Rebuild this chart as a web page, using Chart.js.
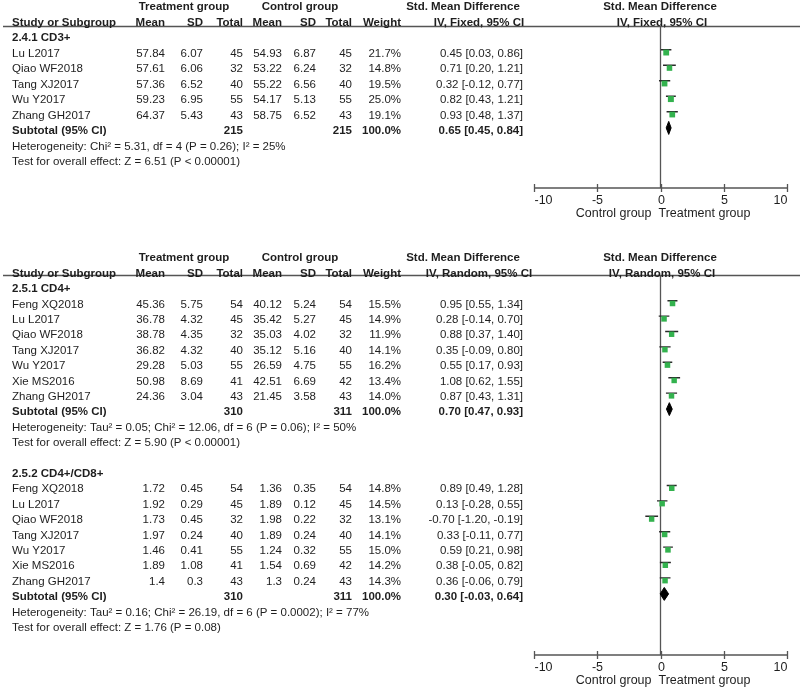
<!DOCTYPE html>
<html>
<head>
<meta charset="utf-8">
<script src="https://cdn.jsdelivr.net/npm/chart.js@4.4.1/dist/chart.umd.min.js"></script>
<style>
  body { margin: 0; background: #fff; }
  canvas { display: block; }
</style>
</head>
<body>
<canvas id="top" width="800" height="220"></canvas>
<canvas id="bottom" width="800" height="470"></canvas>
<script>
// ---- data ----
const tickValues = [-10, -5, 0, 5, 10]

// 2.4.1 CD3+
const cd3Studies = ['Lu L2017', 'Qiao WF2018', 'Tang XJ2017', 'Wu Y2017', 'Zhang GH2017']
const cd3TMean = [57.84, 57.61, 57.36, 59.23, 64.37]
const cd3TSD = [6.07, 6.06, 6.52, 6.95, 5.43]
const cd3TN = [45, 32, 40, 55, 43]
const cd3CMean = [54.93, 53.22, 55.22, 54.17, 58.75]
const cd3CSD = [6.87, 6.24, 6.56, 5.13, 6.52]
const cd3CN = [45, 32, 40, 55, 43]
const cd3Weight = [21.7, 14.8, 19.5, 25.0, 19.1]
const cd3Smd = [0.45, 0.71, 0.32, 0.82, 0.93]
const cd3Lo = [0.03, 0.20, -0.12, 0.43, 0.48]
const cd3Hi = [0.86, 1.21, 0.77, 1.21, 1.37]
const cd3Total = [215, 215, 0.65, 0.45, 0.84]

// 2.5.1 CD4+
const cd4Studies = ['Feng XQ2018', 'Lu L2017', 'Qiao WF2018', 'Tang XJ2017', 'Wu Y2017', 'Xie MS2016', 'Zhang GH2017']
const cd4TMean = [45.36, 36.78, 38.78, 36.82, 29.28, 50.98, 24.36]
const cd4TSD = [5.75, 4.32, 4.35, 4.32, 5.03, 8.69, 3.04]
const cd4TN = [54, 45, 32, 40, 55, 41, 43]
const cd4CMean = [40.12, 35.42, 35.03, 35.12, 26.59, 42.51, 21.45]
const cd4CSD = [5.24, 5.27, 4.02, 5.16, 4.75, 6.69, 3.58]
const cd4CN = [54, 45, 32, 40, 55, 42, 43]
const cd4Weight = [15.5, 14.9, 11.9, 14.1, 16.2, 13.4, 14.0]
const cd4Smd = [0.95, 0.28, 0.88, 0.35, 0.55, 1.08, 0.87]
const cd4Lo = [0.55, -0.14, 0.37, -0.09, 0.17, 0.62, 0.43]
const cd4Hi = [1.34, 0.70, 1.40, 0.80, 0.93, 1.55, 1.31]
const cd4Total = [310, 311, 0.70, 0.47, 0.93]

// 2.5.2 CD4+/CD8+
const ratioStudies = ['Feng XQ2018', 'Lu L2017', 'Qiao WF2018', 'Tang XJ2017', 'Wu Y2017', 'Xie MS2016', 'Zhang GH2017']
const ratioTMean = [1.72, 1.92, 1.73, 1.97, 1.46, 1.89, 1.4]
const ratioTSD = [0.45, 0.29, 0.45, 0.24, 0.41, 1.08, 0.3]
const ratioTN = [54, 45, 32, 40, 55, 41, 43]
const ratioCMean = [1.36, 1.89, 1.98, 1.89, 1.24, 1.54, 1.3]
const ratioCSD = [0.35, 0.12, 0.22, 0.24, 0.32, 0.69, 0.24]
const ratioCN = [54, 45, 32, 40, 55, 42, 43]
const ratioWeight = [14.8, 14.5, 13.1, 14.1, 15.0, 14.2, 14.3]
const ratioSmd = [0.89, 0.13, -0.70, 0.33, 0.59, 0.38, 0.36]
const ratioLo = [0.49, -0.28, -1.20, -0.11, 0.21, -0.05, -0.06]
const ratioHi = [1.28, 0.55, -0.19, 0.77, 0.98, 0.82, 0.79]
const ratioTotal = [310, 311, 0.30, -0.03, 0.64]

const groups = [
  { panel: 'top', row: 0, title: '2.4.1 CD3+', studies: cd3Studies, tMean: cd3TMean, tSD: cd3TSD, tN: cd3TN,
    cMean: cd3CMean, cSD: cd3CSD, cN: cd3CN, weight: cd3Weight, smd: cd3Smd, lo: cd3Lo, hi: cd3Hi, total: cd3Total,
    het: 'Heterogeneity: Chi² = 5.31, df = 4 (P = 0.26); I² = 25%',
    test: 'Test for overall effect: Z = 6.51 (P < 0.00001)' },
  { panel: 'bottom', row: 0, title: '2.5.1 CD4+', studies: cd4Studies, tMean: cd4TMean, tSD: cd4TSD, tN: cd4TN,
    cMean: cd4CMean, cSD: cd4CSD, cN: cd4CN, weight: cd4Weight, smd: cd4Smd, lo: cd4Lo, hi: cd4Hi, total: cd4Total,
    het: 'Heterogeneity: Tau² = 0.05; Chi² = 12.06, df = 6 (P = 0.06); I² = 50%',
    test: 'Test for overall effect: Z = 5.90 (P < 0.00001)' },
  { panel: 'bottom', row: 12, title: '2.5.2 CD4+/CD8+', studies: ratioStudies, tMean: ratioTMean, tSD: ratioTSD, tN: ratioTN,
    cMean: ratioCMean, cSD: ratioCSD, cN: ratioCN, weight: ratioWeight, smd: ratioSmd, lo: ratioLo, hi: ratioHi, total: ratioTotal,
    het: 'Heterogeneity: Tau² = 0.16; Chi² = 26.19, df = 6 (P = 0.0002); I² = 77%',
    test: 'Test for overall effect: Z = 1.76 (P = 0.08)' }
]

// ---- layout ----
const FONT = '"Liberation Sans", Arial, sans-serif'
const TXT = '#1e1e1e'
const GREEN = '#33b24e'
const cols = { name: 12, tMean: 165, tSD: 203, tN: 243, cMean: 282, cSD: 316, cN: 352, weight: 401, smd: 523 }

const panels = {
  top: { h: 220, top: 26, bottom: 188, row0: 38, pitch: 15.5, method: 'IV, Fixed, 95% CI' },
  bottom: { h: 470, top: 55, bottom: 435, row0: 69, pitch: 15.4, method: 'IV, Random, 95% CI' }
}

const fmt = v => v.toFixed(2)
const ciText = (e, l, h) => fmt(e) + ' [' + fmt(l) + ', ' + fmt(h) + ']'

function txt(ctx, s, x, y, align, bold, size) {
  ctx.font = (bold ? 'bold ' : '') + (size || 11.5) + 'px ' + FONT
  ctx.textAlign = align
  ctx.fillText(s, x, y)
}

const forestPlugin = {
  id: 'forest',
  beforeDatasetsDraw(chart) {
    const ctx = chart.ctx, a = chart.chartArea, xs = chart.scales.x
    const x0 = xs.getPixelForValue(0)
    ctx.save()
    ctx.strokeStyle = '#555'
    ctx.lineWidth = 1.3
    // header rule
    ctx.beginPath(); ctx.moveTo(3, a.top + 0.5); ctx.lineTo(800, a.top + 0.5); ctx.stroke()
    // line of no effect
    ctx.beginPath(); ctx.moveTo(x0, a.top); ctx.lineTo(x0, a.bottom); ctx.stroke()
    // x axis
    ctx.beginPath()
    ctx.moveTo(xs.getPixelForValue(tickValues[0]), a.bottom)
    ctx.lineTo(xs.getPixelForValue(tickValues[tickValues.length - 1]), a.bottom)
    ctx.stroke()
    ctx.fillStyle = TXT
    ctx.textBaseline = 'middle'
    tickValues.forEach((v, i) => {
      const px = Math.round(xs.getPixelForValue(v)) + 0.5
      ctx.beginPath(); ctx.moveTo(px, a.bottom - 4); ctx.lineTo(px, a.bottom + 4); ctx.stroke()
      const align = i === 0 ? 'left' : (i === tickValues.length - 1 ? 'right' : 'center')
      txt(ctx, String(v), px, a.bottom + 13, align, false, 12.5)
    })
    txt(ctx, 'Control group', x0 - 9, a.bottom + 26, 'right', false, 12.5)
    txt(ctx, 'Treatment group', x0 - 2, a.bottom + 26, 'left', false, 12.5)
    ctx.restore()
  },
  afterDraw(chart) {
    const ctx = chart.ctx, ys = chart.scales.y
    const p = panels[chart.options.plugins.forest.panel]
    const Y = r => ys.getPixelForValue(r)
    ctx.save()
    ctx.fillStyle = TXT
    ctx.textBaseline = 'middle'
    // column headers
    txt(ctx, 'Treatment group', 184, Y(-2), 'center', true)
    txt(ctx, 'Control group', 300, Y(-2), 'center', true)
    txt(ctx, 'Std. Mean Difference', 463, Y(-2), 'center', true)
    txt(ctx, 'Std. Mean Difference', 660, Y(-2), 'center', true)
    txt(ctx, 'Study or Subgroup', cols.name, Y(-1), 'left', true)
    txt(ctx, 'Mean', cols.tMean, Y(-1), 'right', true)
    txt(ctx, 'SD', cols.tSD, Y(-1), 'right', true)
    txt(ctx, 'Total', cols.tN, Y(-1), 'right', true)
    txt(ctx, 'Mean', cols.cMean, Y(-1), 'right', true)
    txt(ctx, 'SD', cols.cSD, Y(-1), 'right', true)
    txt(ctx, 'Total', cols.cN, Y(-1), 'right', true)
    txt(ctx, 'Weight', cols.weight, Y(-1), 'right', true)
    txt(ctx, p.method, 479, Y(-1), 'center', true)
    txt(ctx, p.method, 662, Y(-1), 'center', true)

    groups.filter(g => g.panel === chart.options.plugins.forest.panel).forEach(g => {
      let r = g.row
      txt(ctx, g.title, cols.name, Y(r), 'left', true)
      g.studies.forEach((s, i) => {
        const y = Y(r + 1 + i)
        txt(ctx, s, cols.name, y, 'left', false)
        txt(ctx, String(g.tMean[i]), cols.tMean, y, 'right', false)
        txt(ctx, String(g.tSD[i]), cols.tSD, y, 'right', false)
        txt(ctx, String(g.tN[i]), cols.tN, y, 'right', false)
        txt(ctx, String(g.cMean[i]), cols.cMean, y, 'right', false)
        txt(ctx, String(g.cSD[i]), cols.cSD, y, 'right', false)
        txt(ctx, String(g.cN[i]), cols.cN, y, 'right', false)
        txt(ctx, g.weight[i].toFixed(1) + '%', cols.weight, y, 'right', false)
        txt(ctx, ciText(g.smd[i], g.lo[i], g.hi[i]), cols.smd, y, 'right', false)
      })
      const ys2 = Y(r + 1 + g.studies.length)
      txt(ctx, 'Subtotal (95% CI)', cols.name, ys2, 'left', true)
      txt(ctx, String(g.total[0]), cols.tN, ys2, 'right', true)
      txt(ctx, String(g.total[1]), cols.cN, ys2, 'right', true)
      txt(ctx, '100.0%', cols.weight, ys2, 'right', true)
      txt(ctx, ciText(g.total[2], g.total[3], g.total[4]), cols.smd, ys2, 'right', true)
      txt(ctx, g.het, cols.name, Y(r + 2 + g.studies.length), 'left', false)
      txt(ctx, g.test, cols.name, Y(r + 3 + g.studies.length), 'left', false)
    })
    ctx.restore()
  }
}

// marks sit a little above the text line, as in the original figure
const LINE_SHIFT = -0.24
const BOX_SHIFT = -0.06
const DIAMOND_SHIFT = -0.2

function datasetsFor(panel) {
  const ds = []
  groups.filter(g => g.panel === panel).forEach(g => {
    const ci = []
    g.studies.forEach((s, i) => {
      const r = g.row + 1 + i + LINE_SHIFT
      ci.push({ x: g.lo[i], y: r }, { x: g.hi[i], y: r }, { x: null, y: null })
    })
    ds.push({
      data: g.studies.map((s, i) => ({ x: g.smd[i], y: g.row + 1 + i + BOX_SHIFT })),
      pointStyle: 'rect', backgroundColor: GREEN, borderColor: GREEN, borderWidth: 0,
      pointRadius: g.weight.map(w => 3.4 + w / 30)
    })
    ds.push({ data: ci, showLine: true, borderColor: '#2a2a2a', borderWidth: 1.4, pointRadius: 0, spanGaps: false })
    const rs = g.row + 1 + g.studies.length + DIAMOND_SHIFT
    const [, , est, lo, hi] = g.total
    ds.push({
      data: [{ x: lo, y: rs }, { x: est, y: rs - 0.42 }, { x: hi, y: rs }, { x: est, y: rs + 0.42 }, { x: lo, y: rs }],
      showLine: true, fill: 'shape', backgroundColor: '#000', borderColor: '#000', borderWidth: 1, pointRadius: 0, tension: 0
    })
  })
  return ds
}

function makePanel(id) {
  const p = panels[id]
  new Chart(document.getElementById(id), {
    type: 'scatter',
    data: { datasets: datasetsFor(id) },
    options: {
      responsive: false,
      animation: false,
      devicePixelRatio: 1,
      events: [],
      layout: { padding: { left: 534, right: 13, top: p.top, bottom: p.h - p.bottom } },
      scales: {
        x: { type: 'linear', min: -10, max: 10, display: false },
        y: { type: 'linear', reverse: true, display: false,
             min: (p.top - p.row0) / p.pitch, max: (p.bottom - p.row0) / p.pitch }
      },
      plugins: { legend: { display: false }, tooltip: { enabled: false }, forest: { panel: id } }
    },
    plugins: [forestPlugin]
  })
}

makePanel('top')
makePanel('bottom')
</script>
</body>
</html>
